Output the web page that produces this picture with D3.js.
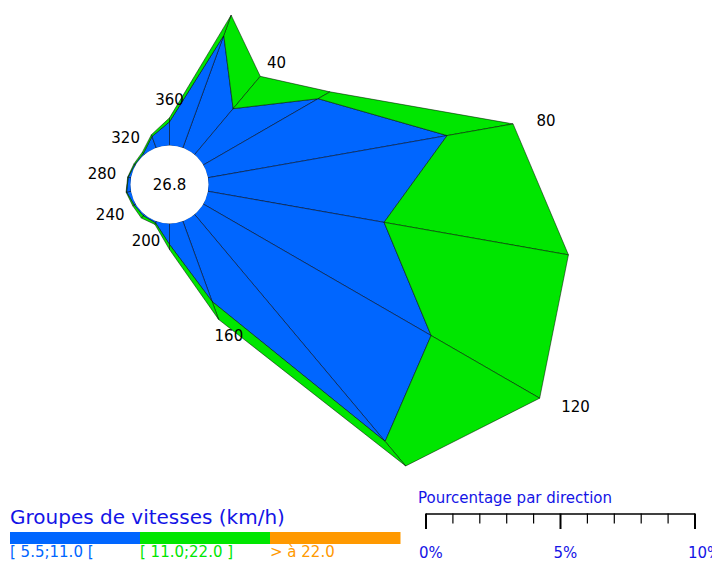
<!DOCTYPE html>
<html>
<head>
<meta charset="utf-8">
<script src="https://cdn.jsdelivr.net/npm/d3@7"></script>
<style>
  html, body { margin: 0; padding: 0; background: #ffffff; }
  svg { display: block; font-family: "DejaVu Sans", sans-serif; }
</style>
</head>
<body>
<div id="chart"></div>
<script>
// ---------------- DATA ----------------
const directions = [20, 40, 60, 80, 100, 120, 140, 160, 180, 200, 220, 240, 260, 280, 300, 320, 340, 360];
const seriesKeys = ["s1", "s2", "s3"];
const seriesLabels = ["[ 5.5;11.0 [", "[ 11.0;22.0 ]", "> à 22.0"];
const seriesColors = ["#0066ff", "#00e600", "#ff9900"];
// % per direction, speed class [5.5;11.0[
const values1 = [4.45, 2.23, 4.93, 9.03, 6.65, 9.78, 11.02, 3.18, 0.78, 0.07, 0.07, 0.07, 0.17, 0.11, 0.04, 0.06, 0.45, 0.88];
// % per direction, speed class [11.0;22.0]
const values2 = [0.80, 1.57, 0.51, 2.49, 6.96, 4.66, 1.19, 0.71, 0.19, 0.06, 0.11, 0.06, 0.02, 0.02, 0.04, 0.06, 0.07, 0.15];
// % per direction, speed class > 22.0
const values3 = [0, 0, 0, 0, 0, 0, 0, 0, 0, 0, 0, 0, 0, 0, 0, 0, 0, 0];
const calmValue = "26.8";
const directionLabels = [40, 80, 120, 160, 200, 240, 280, 320, 360];
const legendTitle = "Groupes de vitesses (km/h)";
const scaleTitle = "Pourcentage par direction";
const scaleTicks = [0, 1, 2, 3, 4, 5, 6, 7, 8, 9, 10];
const scaleTickLabels = ["0%", "5%", "10%"];
const scaleLabelTicks = [0, 5, 10];

// ---------------- LAYOUT ----------------
const W = 712, H = 561;
const cx = 169.5, cy = 184.5;
const r0 = 39;
const pxPerPct = 26.9;

const svg = d3.select("#chart").append("svg")
  .attr("width", W).attr("height", H);

const table = directions.map((d, i) => ({ dir: d, s1: values1[i], s2: values2[i], s3: values3[i] }));
const stacked = d3.stack().keys(seriesKeys)(table);

const rScale = d3.scaleLinear().domain([0, 10]).range([r0, r0 + 10 * pxPerPct]);
const aScale = d3.scaleLinear().domain([0, 360]).range([0, 2 * Math.PI]);

function pt(dir, v) {
  const a = aScale(dir), r = rScale(v);
  return [cx + r * Math.sin(a), cy - r * Math.cos(a)];
}

const g = svg.append("g");
const line = d3.line();

stacked.forEach((layer, si) => {
  const hasData = layer.some(p => p[1] - p[0] > 0);
  if (!hasData) return;
  const n = layer.length;
  for (let i = 0; i < n; i++) {
    const j = (i + 1) % n;
    const di = directions[i], dj = directions[j];
    const poly = [
      pt(di, layer[i][0]), pt(dj, layer[j][0]),
      pt(dj, layer[j][1]), pt(di, layer[i][1])
    ];
    g.append("path")
      .attr("d", line(poly) + "Z")
      .attr("fill", seriesColors[si])
      .attr("stroke", "#000")
      .attr("stroke-width", 0.5)
      .attr("stroke-linejoin", "round");
  }
});

// central calm circle
svg.append("circle").attr("cx", cx).attr("cy", cy).attr("r", r0).attr("fill", "#fff");
svg.append("text").attr("x", cx).attr("y", cy)
  .attr("text-anchor", "middle").attr("dominant-baseline", "central")
  .attr("font-size", 15).attr("fill", "#000").text(calmValue);

// direction labels
const totalByDir = new Map(table.map((row, i) => [row.dir, stacked[stacked.length - 1][i][1]]));
directionLabels.forEach(d => {
  const a = aScale(d);
  const s = Math.sin(a), c = Math.cos(a);
  const r = rScale(totalByDir.get(d));
  const halfW = String(d).length * 4.77;
  const vx = cx + r * s, vy = cy - r * c;
  const lx = vx + s * (halfW + 10 + 0.04 * r);
  const ly = vy - c * 18;
  svg.append("text")
    .attr("x", lx).attr("y", ly)
    .attr("text-anchor", "middle").attr("dominant-baseline", "central")
    .attr("font-size", 15).attr("fill", "#000")
    .text(d);
});

// ---------------- LEGEND ----------------
svg.append("text").attr("x", 10).attr("y", 524)
  .attr("font-size", 20).attr("fill", "#1414e6").text(legendTitle);

const legX = d3.scaleBand().domain(seriesKeys).range([10, 400]).paddingInner(0);
seriesKeys.forEach((k, i) => {
  svg.append("rect").attr("x", legX(k)).attr("y", 532)
    .attr("width", legX.bandwidth() + 0.5).attr("height", 12)
    .attr("fill", seriesColors[i]);
  svg.append("text").attr("x", legX(k)).attr("y", 557)
    .attr("font-size", 15).attr("fill", seriesColors[i]).text(seriesLabels[i]);
});

// percentage scale bar
const sx = d3.scaleLinear().domain([0, 10]).range([426, 426 + 10 * pxPerPct]);
svg.append("text").attr("x", 418).attr("y", 503)
  .attr("font-size", 15).attr("fill", "#1414e6").text(scaleTitle);
svg.append("line").attr("x1", sx(0)).attr("x2", sx(10)).attr("y1", 514).attr("y2", 514)
  .attr("stroke", "#000").attr("stroke-width", 1.5);
scaleTicks.forEach(t => {
  const major = scaleLabelTicks.includes(t);
  svg.append("line").attr("x1", sx(t)).attr("x2", sx(t))
    .attr("y1", 513.5).attr("y2", major ? 529 : 523.5)
    .attr("stroke", "#000").attr("stroke-width", major ? 2 : 1.2);
});
scaleLabelTicks.forEach((t, i) => {
  svg.append("text").attr("x", sx(t) - 7).attr("y", 557.5)
    .attr("font-size", 15).attr("fill", "#1414e6").text(scaleTickLabels[i]);
});
</script>
</body>
</html>
